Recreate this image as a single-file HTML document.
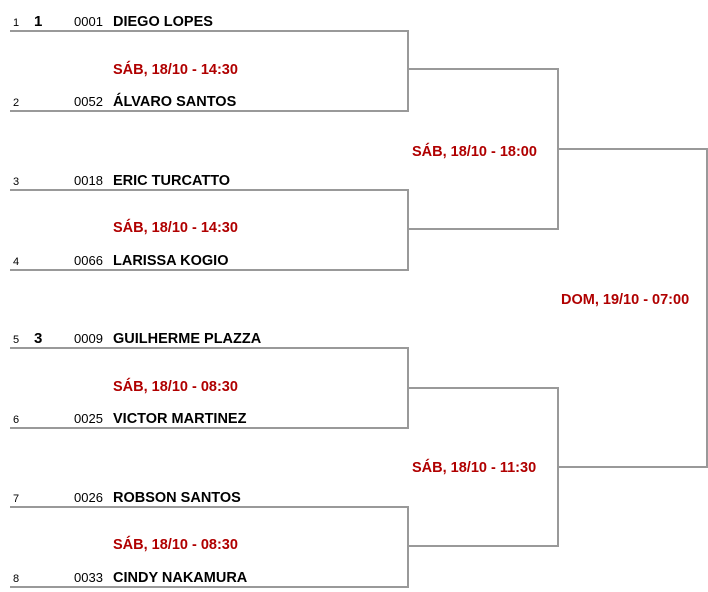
<!DOCTYPE html>
<html><head><meta charset="utf-8"><style>
html,body{margin:0;padding:0;background:#fff;}
svg{display:block;font-family:"Liberation Sans",Arial,sans-serif;}
.n{font-size:11px;fill:#000}
.s{font-size:15px;font-weight:bold;fill:#000}
.i{font-size:13px;fill:#000}
.m{font-size:14.5px;font-weight:bold;fill:#000}
.d{font-size:14.5px;font-weight:bold;fill:#b00000}
</style></head><body>
<svg width="708" height="592" viewBox="0 0 708 592">
<g fill="none" stroke="#999" stroke-width="2">
<polyline points="10,31 408,31 408,111 10,111"/>
<polyline points="10,190 408,190 408,270 10,270"/>
<polyline points="10,348 408,348 408,428 10,428"/>
<polyline points="10,507 408,507 408,587 10,587"/>
<polyline points="408,69 558,69 558,229 408,229"/>
<polyline points="408,388 558,388 558,546 408,546"/>
<polyline points="558,149 707,149 707,467 558,467"/>
</g>
<g>
<text x="13" y="26" class="n">1</text><text x="34" y="26" class="s">1</text><text x="74" y="26" class="i">0001</text><text x="113" y="26" class="m">DIEGO LOPES</text>
<text x="113" y="74" class="d">SÁB, 18/10 - 14:30</text>
<text x="13" y="106" class="n">2</text><text x="74" y="106" class="i">0052</text><text x="113" y="106" class="m">ÁLVARO SANTOS</text>

<text x="13" y="185" class="n">3</text><text x="74" y="185" class="i">0018</text><text x="113" y="185" class="m">ERIC TURCATTO</text>
<text x="113" y="232" class="d">SÁB, 18/10 - 14:30</text>
<text x="13" y="265" class="n">4</text><text x="74" y="265" class="i">0066</text><text x="113" y="265" class="m">LARISSA KOGIO</text>

<text x="13" y="343" class="n">5</text><text x="34" y="343" class="s">3</text><text x="74" y="343" class="i">0009</text><text x="113" y="343" class="m">GUILHERME PLAZZA</text>
<text x="113" y="391" class="d">SÁB, 18/10 - 08:30</text>
<text x="13" y="423" class="n">6</text><text x="74" y="423" class="i">0025</text><text x="113" y="423" class="m">VICTOR MARTINEZ</text>

<text x="13" y="502" class="n">7</text><text x="74" y="502" class="i">0026</text><text x="113" y="502" class="m">ROBSON SANTOS</text>
<text x="113" y="549" class="d">SÁB, 18/10 - 08:30</text>
<text x="13" y="582" class="n">8</text><text x="74" y="582" class="i">0033</text><text x="113" y="582" class="m">CINDY NAKAMURA</text>

<text x="412" y="156" class="d">SÁB, 18/10 - 18:00</text>
<text x="412" y="472" class="d">SÁB, 18/10 - 11:30</text>
<text x="561" y="304" class="d">DOM, 19/10 - 07:00</text>
</g>
</svg>
</body></html>
